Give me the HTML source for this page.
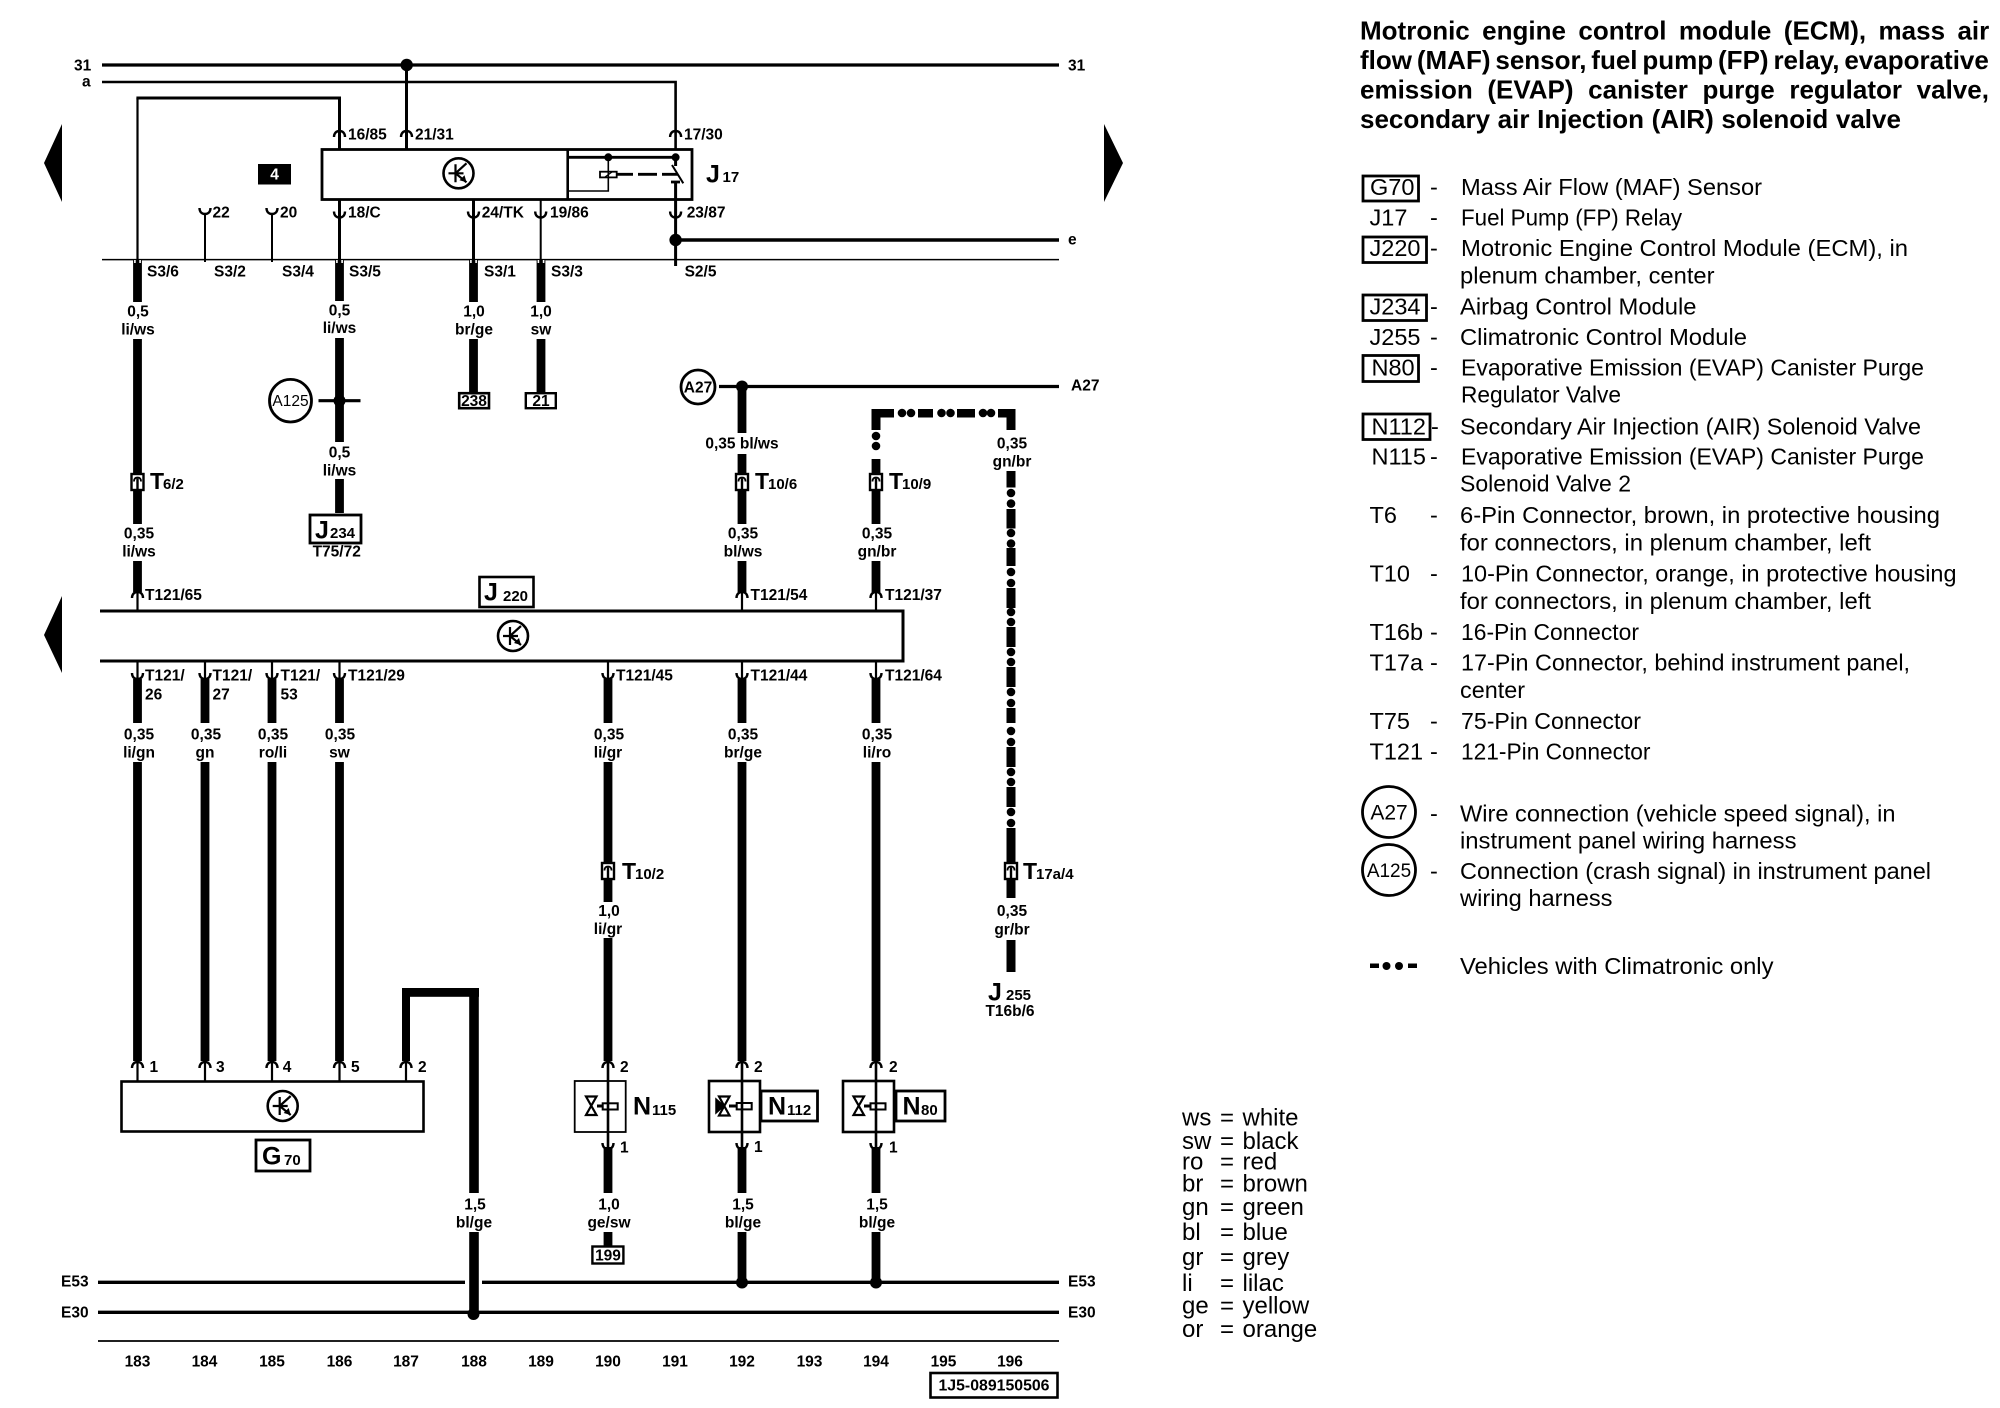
<!DOCTYPE html>
<html lang="en"><head><meta charset="utf-8"><title>Wiring diagram</title>
<style>
html,body{margin:0;padding:0;background:#fff}
svg{display:block}
text{font-family:"Liberation Sans",sans-serif;fill:#000}
.b{font-size:15.5px;font-weight:bold}
.m{text-anchor:middle}
.big{font-size:23px;font-weight:bold}
.jj{font-size:25px;font-weight:bold}
.sub{font-size:15px;font-weight:bold}
.h{font-size:26px;font-weight:bold}
.r{font-size:23.5px}
.c{font-size:24px}
.t{stroke:#000;fill:none}
</style></head><body>
<svg width="2000" height="1408" viewBox="0 0 2000 1408" xmlns="http://www.w3.org/2000/svg">
<defs>
<path id="up" d="M-5.5,6 C-5.5,2 -3,0 0,0 C3,0 5.5,2 5.5,6" fill="none" stroke="#000" stroke-width="2.4"/>
<path id="dn" d="M-5.5,0 C-5.5,4 -3,6 0,6 C3,6 5.5,4 5.5,0" fill="none" stroke="#000" stroke-width="2.4"/>
<g id="logo" fill="none" stroke="#000"><circle r="15" stroke-width="2.6"/><path d="M-3,-9 V9 M-10,0 H5 M-3,0 L8,-10 M-3,0 L8,9" stroke-width="2.2"/><path d="M8,9 L1,7 L6,2 Z" fill="#000" stroke="none"/></g>
<g id="tc"><rect x="-6" y="-7.5" width="12" height="16" fill="#fff" stroke="#000" stroke-width="2.4"/><path d="M0,-3 V8" stroke="#000" stroke-width="2.4"/><path d="M-3.5,0 C-3.5,-3 -2,-4 0,-4 C2,-4 3.5,-3 3.5,0" fill="none" stroke="#000" stroke-width="1.8"/></g>
<g id="notch"><path d="M-2.6,0 V3 M2.6,0 V3" stroke="#fff" stroke-width="1.6"/></g>
</defs>
<rect width="2000" height="1408" fill="#fff"/>

<!-- page arrows -->
<polygon points="44,163 62,124 62,202" fill="#000"/>
<polygon points="44,635 62,596 62,673" fill="#000"/>
<polygon points="1123,163 1104,124 1104,202" fill="#000"/>

<!-- top rails -->
<g class="t">
<path d="M102,65 H1059" stroke-width="3.2"/>
<path d="M102,82 H675.6 V149" stroke-width="2.6"/>
<path d="M406.5,65 V149" stroke-width="3"/>
<path d="M137.5,260 V98" stroke-width="2.2"/>
<path d="M136.4,98 H339.5 V149" stroke-width="3"/>
<path d="M339.5,199 V260 M473.5,199 V260 M675.6,182 V266" stroke-width="3"/>
<path d="M540.7,199 V260" stroke-width="2"/>
<path d="M205,213 V262 M272,213 V262" stroke-width="2"/>
<path d="M102,259.6 H1059" stroke-width="1.5"/>
<path d="M676,240 H1059" stroke-width="3.4"/>
</g>
<circle cx="406.7" cy="65" r="6.2"/><circle cx="675.6" cy="240" r="6.2"/>
<use href="#up" x="339.5" y="131"/><use href="#up" x="406.5" y="131"/><use href="#up" x="675.6" y="131"/>
<use href="#dn" x="339.5" y="211.5"/><use href="#dn" x="473.5" y="211.5"/><use href="#dn" x="540.7" y="211.5"/><use href="#dn" x="675.6" y="211.5"/>
<use href="#dn" x="205" y="208"/><use href="#dn" x="272" y="208"/>

<!-- J17 -->
<rect x="322" y="149.5" width="370" height="50" fill="none" stroke="#000" stroke-width="2.8"/>
<path d="M567.7,149.5 V199.5" stroke="#000" stroke-width="2.6"/>
<use href="#logo" x="458.5" y="173.3"/>
<g class="t">
<path d="M568,157.3 H675.6" stroke-width="2.8"/>
<path d="M608.3,157 V191 H568" stroke-width="1.6"/>
<path d="M616,174.3 H633 M638,174.3 H657 M662,174.3 H678" stroke-width="2.8"/>
<path d="M672,165 L683.3,183.3" stroke-width="2"/>
<path d="M675.6,157 V166" stroke-width="3"/>
<path d="M671,182 H680" stroke-width="2.8"/>
</g>
<rect x="600" y="171.7" width="16.7" height="5.7" fill="#fff" stroke="#000" stroke-width="1.8"/>
<path d="M605,177 L612,172" stroke="#000" stroke-width="1.2"/><path d="M608.3,172 V177" stroke="#000" stroke-width="1.6"/>
<circle cx="608.3" cy="157.3" r="4"/><circle cx="675.6" cy="157.3" r="4"/>
<text x="706" y="182.5" class="jj">J</text><text x="722.5" y="182" class="sub">17</text>
<rect x="258" y="164" width="33" height="20.5" fill="#000"/>
<text x="274.5" y="179.5" class="b m" style="fill:#fff">4</text>

<g class="b">
<text x="74" y="70.5">31</text><text x="1068" y="70.5">31</text><text x="82" y="86.5">a</text><text x="1068" y="244.5">e</text>
<text x="348" y="139.5">16/85</text><text x="415" y="139.5">21/31</text><text x="684" y="139.5">17/30</text>
<text x="348" y="217.5">18/C</text><text x="481.7" y="217.5">24/TK</text><text x="550" y="217.5">19/86</text><text x="686.7" y="217.5">23/87</text>
<text x="212.5" y="217.5">22</text><text x="280" y="217.5">20</text>
<text x="147" y="276.5">S3/6</text><text x="214" y="276.5">S3/2</text><text x="282" y="276.5">S3/4</text><text x="349" y="276.5">S3/5</text><text x="484" y="276.5">S3/1</text><text x="551" y="276.5">S3/3</text><text x="684.6" y="276.5">S2/5</text>
</g>

<!-- thick wires upper -->
<g class="t" stroke-width="8.8">
<path d="M137.5,260 V302 M137.5,339 V524 M137.5,561 V592"/>
<path d="M339.5,260 V301 M339.5,338 V442 M339.5,479 V513"/>
<path d="M473.5,260 V302 M473.5,339 V392"/>
<path d="M541,260 V302 M541,339 V392"/>
<path d="M742,386 V433 M742,454 V524 M742,561 V592"/>
<path d="M876,459 V524 M876,561 V592"/>
</g>
<use href="#notch" x="137.5" y="260"/><use href="#notch" x="339.5" y="260"/><use href="#notch" x="473.5" y="260"/><use href="#notch" x="541" y="260"/>
<g class="t" stroke-width="3.2">
<path d="M719,386.5 H1059"/>
<path d="M318.5,400.7 H360.5"/>
</g>
<circle cx="742" cy="386.5" r="6"/><circle cx="339.5" cy="400.7" r="6"/>
<ellipse cx="290.5" cy="400.7" rx="21" ry="21.3" fill="#fff" stroke="#000" stroke-width="2.8"/>
<text x="290.5" y="406" class="m" style="font-size:15.5px">A125</text>
<ellipse cx="698" cy="387" rx="17" ry="17" fill="#fff" stroke="#000" stroke-width="2.8"/>
<text x="698" y="392.5" class="b m">A27</text>
<text x="1071" y="390.5" class="b">A27</text>

<rect x="459.2" y="393.2" width="29.8" height="15" fill="#fff" stroke="#000" stroke-width="2.6"/>
<text x="474" y="406.2" class="b m">238</text>
<rect x="525.8" y="393.2" width="30" height="15" fill="#fff" stroke="#000" stroke-width="2.4"/>
<text x="541" y="406.2" class="b m">21</text>
<rect x="310" y="515" width="51" height="28" fill="#fff" stroke="#000" stroke-width="2.8"/>
<text x="315" y="538.5" class="jj">J</text><text x="330" y="538" class="sub">234</text>
<text x="336.7" y="556.5" class="b m">T75/72</text>

<!-- dashed harness -->
<g fill="#000">
<rect x="871.5" y="409" width="22.5" height="8.5"/><circle cx="902" cy="413" r="4.3"/><circle cx="911" cy="413" r="4.3"/>
<rect x="918" y="409" width="15" height="8.5"/><circle cx="941.5" cy="413" r="4.3"/><circle cx="950.5" cy="413" r="4.3"/>
<rect x="957" y="409" width="18" height="8.5"/><circle cx="983" cy="413" r="4.3"/><circle cx="991" cy="413" r="4.3"/>
<rect x="998" y="409" width="17.5" height="8.5"/>
<rect x="871.5" y="409" width="9" height="21"/><circle cx="876" cy="436" r="4.3"/><circle cx="876" cy="446" r="4.3"/>
<rect x="1006.5" y="409" width="9" height="21"/>
<rect x="1006.5" y="471" width="9" height="16.5"/><circle cx="1011" cy="493" r="4.3"/><circle cx="1011" cy="503.6" r="4.3"/>
<rect x="1006.5" y="509" width="9" height="19.5"/><circle cx="1011" cy="533" r="4.3"/><circle cx="1011" cy="543.6" r="4.3"/>
<rect x="1006.5" y="548" width="9" height="18"/><circle cx="1011" cy="572" r="4.3"/><circle cx="1011" cy="583" r="4.3"/>
<rect x="1006.5" y="588" width="9" height="20"/><circle cx="1011" cy="612" r="4.3"/><circle cx="1011" cy="622" r="4.3"/>
<rect x="1006.5" y="627" width="9" height="20"/><circle cx="1011" cy="652" r="4.3"/><circle cx="1011" cy="662" r="4.3"/>
<rect x="1006.5" y="667" width="9" height="20"/><circle cx="1011" cy="692" r="4.3"/><circle cx="1011" cy="703" r="4.3"/>
<rect x="1006.5" y="708" width="9" height="15"/><circle cx="1011" cy="731" r="4.3"/><circle cx="1011" cy="742" r="4.3"/>
<rect x="1006.5" y="747" width="9" height="20"/><circle cx="1011" cy="772" r="4.3"/><circle cx="1011" cy="782" r="4.3"/>
<rect x="1006.5" y="787" width="9" height="20"/><circle cx="1011" cy="812" r="4.3"/><circle cx="1011" cy="823" r="4.3"/>
<rect x="1006.5" y="828" width="9" height="70"/>
<rect x="1006.5" y="940" width="9" height="32"/>
</g>

<!-- wire labels upper -->
<g class="b m">
<text x="138" y="316.5">0,5</text><text x="138" y="334.5">li/ws</text>
<text x="339.5" y="315.5">0,5</text><text x="339.5" y="333">li/ws</text>
<text x="339.5" y="457.5">0,5</text><text x="339.5" y="475.5">li/ws</text>
<text x="474" y="316.5">1,0</text><text x="474" y="334.5">br/ge</text>
<text x="541" y="316.5">1,0</text><text x="541" y="334.5">sw</text>
<text x="742" y="448.5">0,35 bl/ws</text>
<text x="1012" y="448.5">0,35</text><text x="1012" y="466.5">gn/br</text>
<text x="139" y="538.5">0,35</text><text x="139" y="556.5">li/ws</text>
<text x="743" y="538.5">0,35</text><text x="743" y="556.5">bl/ws</text>
<text x="877" y="538.5">0,35</text><text x="877" y="556.5">gn/br</text>
</g>

<!-- J220 / ECM -->
<rect x="479.5" y="577" width="54" height="30" fill="#fff" stroke="#000" stroke-width="2.6"/>
<text x="484" y="600.5" class="jj">J</text><text x="503" y="601" class="sub">220</text>
<path d="M100,611 H903 V661 H100" fill="none" stroke="#000" stroke-width="3"/>
<use href="#logo" x="513" y="636"/>
<g class="t" stroke-width="2.2">
<path d="M137.5,590 V611 M742,590 V611 M876,590 V611"/>
<path d="M137.5,661 V680 M205,661 V680 M272,661 V680 M339.5,661 V680 M608,661 V680 M742,661 V680 M876,661 V680"/>
</g>
<use href="#up" x="137.5" y="592"/><use href="#up" x="742" y="592"/><use href="#up" x="876" y="592"/>
<use href="#dn" x="137.5" y="673"/><use href="#dn" x="205" y="673"/><use href="#dn" x="272" y="673"/><use href="#dn" x="339.5" y="673"/><use href="#dn" x="608" y="673"/><use href="#dn" x="742" y="673"/><use href="#dn" x="876" y="673"/>
<g class="b">
<text x="145" y="600">T121/65</text><text x="750.5" y="600">T121/54</text><text x="885" y="600">T121/37</text>
<text x="145" y="680.5">T121/</text><text x="145" y="699.5">26</text>
<text x="212.5" y="680.5">T121/</text><text x="212.5" y="699.5">27</text>
<text x="280.5" y="680.5">T121/</text><text x="280.5" y="699.5">53</text>
<text x="348" y="680.5">T121/29</text><text x="616" y="680.5">T121/45</text><text x="750.5" y="680.5">T121/44</text><text x="885" y="680.5">T121/64</text>
</g>

<!-- lower wires -->
<g class="t" stroke-width="8.8">
<path d="M137.5,679 V723 M137.5,762 V1061"/>
<path d="M205,679 V723 M205,762 V1061"/>
<path d="M272,679 V723 M272,762 V1061"/>
<path d="M339.5,679 V723 M339.5,762 V1061"/>
<path d="M608,679 V723 M608,762 V902 M608,938 V1061"/>
<path d="M742,679 V723 M742,762 V1061"/>
<path d="M876,679 V723 M876,762 V1061"/>
<path d="M608,1147 V1193 M608,1232 V1246"/>
<path d="M742,1147 V1193 M742,1232 V1282"/>
<path d="M876,1147 V1193 M876,1232 V1282"/>
<path d="M474,992 V1193 M474,1232 V1315" stroke-width="9.6"/>
<path d="M406,988 V1061" stroke-width="8"/>
</g>
<rect x="402" y="988" width="77" height="8.8"/>

<!-- connectors -->
<use href="#tc" x="137.5" y="481.5"/><use href="#tc" x="742" y="481.5"/><use href="#tc" x="876" y="481.5"/>
<use href="#tc" x="608" y="870.5"/><use href="#tc" x="1011" y="870.5"/>
<text x="150" y="489" class="big">T</text><text x="163" y="489" class="sub">6/2</text>
<text x="755" y="489" class="big">T</text><text x="768" y="489" class="sub">10/6</text>
<text x="889" y="489" class="big">T</text><text x="902" y="489" class="sub">10/9</text>
<text x="622" y="879" class="big">T</text><text x="635" y="879" class="sub">10/2</text>
<text x="1023" y="879" class="big">T</text><text x="1036" y="879" style="font-size:15px;font-weight:bold">17a/4</text>

<g class="b m">
<text x="139" y="739.5">0,35</text><text x="139" y="757.5">li/gn</text>
<text x="206" y="739.5">0,35</text><text x="205" y="757.5">gn</text>
<text x="273" y="739.5">0,35</text><text x="273" y="757.5">ro/li</text>
<text x="340" y="739.5">0,35</text><text x="339.5" y="757.5">sw</text>
<text x="609" y="739.5">0,35</text><text x="608" y="757.5">li/gr</text>
<text x="743" y="739.5">0,35</text><text x="743" y="757.5">br/ge</text>
<text x="877" y="739.5">0,35</text><text x="877" y="757.5">li/ro</text>
<text x="609" y="916">1,0</text><text x="608" y="934">li/gr</text>
<text x="1012" y="916">0,35</text><text x="1012" y="934.5">gr/br</text>
<text x="475" y="1209.5">1,5</text><text x="474" y="1227.5">bl/ge</text>
<text x="609" y="1209.5">1,0</text><text x="609" y="1227.5">ge/sw</text>
<text x="743" y="1209.5">1,5</text><text x="743" y="1227.5">bl/ge</text>
<text x="877" y="1209.5">1,5</text><text x="877" y="1227.5">bl/ge</text>
</g>
<text x="988" y="1000.5" class="jj">J</text><text x="1006" y="1000" class="sub">255</text>
<text x="1010" y="1016" class="b m">T16b/6</text>

<!-- G70 -->
<rect x="121.5" y="1081.5" width="302" height="50" fill="#fff" stroke="#000" stroke-width="2.6"/>
<use href="#logo" x="282.7" y="1106"/>
<rect x="256" y="1140" width="54" height="31" fill="#fff" stroke="#000" stroke-width="2.8"/>
<text x="262" y="1164.5" class="jj">G</text><text x="284" y="1165" class="sub">70</text>
<g class="t" stroke-width="2.2">
<path d="M137.5,1060 V1081 M205,1060 V1081 M272,1060 V1081 M339.5,1060 V1081 M406,1060 V1081"/>
</g>
<use href="#up" x="137.5" y="1062"/><use href="#up" x="205" y="1062"/><use href="#up" x="272" y="1062"/><use href="#up" x="339.5" y="1062"/><use href="#up" x="406" y="1062"/>
<use href="#up" x="608" y="1062"/><use href="#up" x="742" y="1062"/><use href="#up" x="876" y="1062"/>
<g class="b">
<text x="149.5" y="1072">1</text><text x="216" y="1072">3</text><text x="282.7" y="1072">4</text><text x="351" y="1072">5</text><text x="418" y="1072">2</text>
<text x="620" y="1072">2</text><text x="754" y="1072">2</text><text x="889" y="1072">2</text>
<text x="620" y="1152.5">1</text><text x="754" y="1152">1</text><text x="889" y="1152.5">1</text>
</g>

<!-- Valves -->
<rect x="574.7" y="1081" width="51" height="51" fill="#fff" stroke="#000" stroke-width="1.8"/>
<rect x="709" y="1081" width="51" height="51" fill="#fff" stroke="#000" stroke-width="2.6"/>
<rect x="843" y="1081" width="51" height="51" fill="#fff" stroke="#000" stroke-width="2.6"/>
<g stroke="#000" fill="#fff">
<path d="M586,1096.5 H596.5 L586,1115 H596.5 Z" stroke-width="2.2"/>
<path d="M597,1106 H603" stroke-width="3"/>
<rect x="602.7" y="1103.3" width="15" height="6.2" stroke-width="2"/>
<path d="M719,1096.5 H729.5 L719,1115.5 H729.5 Z" stroke-width="2.2"/>
<path d="M724,1106 L716,1099 V1113 Z" stroke-width="1.5" fill="#000"/>
<path d="M729,1106 H737" stroke-width="3"/>
<rect x="736.7" y="1103" width="15" height="6.4" stroke-width="2"/>
<path d="M853.5,1096.5 H864 L853.5,1115 H864 Z" stroke-width="2.2"/>
<path d="M864,1106 H871" stroke-width="3"/>
<rect x="870.5" y="1103.3" width="15" height="6.2" stroke-width="2"/>
</g>
<g class="t" stroke-width="2.6">
<path d="M608,1061 V1147 M742,1061 V1147 M876,1061 V1147"/>
</g>
<use href="#dn" x="608" y="1143"/><use href="#dn" x="742" y="1143"/><use href="#dn" x="876" y="1143"/>
<text x="633" y="1114.5" style="font-size:25px;font-weight:bold">N</text><text x="652" y="1115" class="sub">115</text>
<rect x="761" y="1091" width="56.5" height="30" fill="#fff" stroke="#000" stroke-width="2.8"/>
<text x="768" y="1114.5" style="font-size:25px;font-weight:bold">N</text><text x="787" y="1115" class="sub">112</text>
<rect x="896" y="1091" width="49" height="30" fill="#fff" stroke="#000" stroke-width="2.8"/>
<text x="902.5" y="1114.5" style="font-size:25px;font-weight:bold">N</text><text x="921" y="1115" class="sub">80</text>
<rect x="592.4" y="1246.5" width="31" height="17" fill="#fff" stroke="#000" stroke-width="2.4"/>
<text x="608" y="1260.5" class="b m">199</text>

<!-- bottom rails -->
<g class="t">
<path d="M98,1282.3 H465 M482,1282.3 H1059" stroke-width="3.4"/>
<path d="M98,1312.3 H1059" stroke-width="3.4"/>
<path d="M98,1341 H1059" stroke-width="1.8"/>
</g>
<circle cx="742" cy="1282.5" r="6"/><circle cx="876" cy="1282.5" r="6"/><circle cx="473.5" cy="1314" r="6"/>
<g class="b">
<text x="61" y="1286.5">E53</text><text x="61" y="1317.5">E30</text><text x="1068" y="1286.5">E53</text><text x="1068" y="1317.5">E30</text>
</g>
<g class="b m">
<text x="137.5" y="1366.5">183</text><text x="204.5" y="1366.5">184</text><text x="272" y="1366.5">185</text><text x="339.5" y="1366.5">186</text><text x="406" y="1366.5">187</text><text x="474" y="1366.5">188</text><text x="541" y="1366.5">189</text><text x="608" y="1366.5">190</text><text x="675" y="1366.5">191</text><text x="742" y="1366.5">192</text><text x="809.5" y="1366.5">193</text><text x="876" y="1366.5">194</text><text x="943.5" y="1366.5">195</text><text x="1010" y="1366.5">196</text>
</g>
<rect x="930.5" y="1373" width="127" height="24.5" fill="#fff" stroke="#000" stroke-width="2.6"/>
<text x="994" y="1390.5" class="b m" textLength="111" lengthAdjust="spacingAndGlyphs">1J5-089150506</text>

<!-- Title -->
<g class="h">
<text x="1360" y="39.5" style="word-spacing:5.2px">Motronic engine control module (ECM), mass air</text>
<text x="1360" y="69" style="word-spacing:-2.35px">flow (MAF) sensor, fuel pump (FP) relay, evaporative</text>
<text x="1360" y="98.5" style="word-spacing:7.4px">emission (EVAP) canister purge regulator valve,</text>
<text x="1360" y="128" style="word-spacing:.4px">secondary air Injection (AIR) solenoid valve</text>
</g>

<!-- Legend -->
<g fill="none" stroke="#000" stroke-width="2.8">
<rect x="1363" y="176" width="55.5" height="25"/>
<rect x="1363" y="237" width="63.5" height="25.5"/>
<rect x="1363" y="295" width="63.5" height="25.5"/>
<rect x="1363" y="355.5" width="55.5" height="26"/>
<rect x="1363" y="414" width="67" height="25.5"/>
<ellipse cx="1389" cy="812" rx="26.5" ry="25.5"/>
<ellipse cx="1389" cy="870" rx="26.5" ry="25.5"/>
</g>
<g class="r">
<text x="1370" y="195">G70</text><text x="1430" y="195">-</text>
<text x="1461" y="195" textLength="301" lengthAdjust="spacingAndGlyphs">Mass Air Flow (MAF) Sensor</text>
<text x="1369.5" y="225.5">J17</text><text x="1430" y="225.5">-</text>
<text x="1461" y="225.5" textLength="221" lengthAdjust="spacingAndGlyphs">Fuel Pump (FP) Relay</text>
<text x="1369.5" y="256">J220</text><text x="1430" y="256">-</text>
<text x="1461" y="256" textLength="447" lengthAdjust="spacingAndGlyphs">Motronic Engine Control Module (ECM), in</text>
<text x="1460" y="283.5" textLength="254.5" lengthAdjust="spacingAndGlyphs">plenum chamber, center</text>
<text x="1369.5" y="314.5">J234</text><text x="1430" y="314.5">-</text>
<text x="1460" y="314.5" textLength="236.5" lengthAdjust="spacingAndGlyphs">Airbag Control Module</text>
<text x="1369.5" y="345">J255</text><text x="1430" y="345">-</text>
<text x="1460" y="345" textLength="287" lengthAdjust="spacingAndGlyphs">Climatronic Control Module</text>
<text x="1371.5" y="375.5">N80</text><text x="1430" y="375.5">-</text>
<text x="1461" y="375.5" textLength="463" lengthAdjust="spacingAndGlyphs">Evaporative Emission (EVAP) Canister Purge</text>
<text x="1461" y="402.5" textLength="160" lengthAdjust="spacingAndGlyphs">Regulator Valve</text>
<text x="1371.5" y="434.5">N112</text><text x="1431" y="434.5">-</text>
<text x="1460" y="434.5" textLength="461" lengthAdjust="spacingAndGlyphs">Secondary Air Injection (AIR) Solenoid Valve</text>
<text x="1371.5" y="464.5">N115</text><text x="1430" y="464.5">-</text>
<text x="1461" y="464.5" textLength="463" lengthAdjust="spacingAndGlyphs">Evaporative Emission (EVAP) Canister Purge</text>
<text x="1460" y="491.5" textLength="171" lengthAdjust="spacingAndGlyphs">Solenoid Valve 2</text>
<text x="1369.5" y="523">T6</text><text x="1430" y="523">-</text>
<text x="1460" y="523" textLength="480" lengthAdjust="spacingAndGlyphs">6-Pin Connector, brown, in protective housing</text>
<text x="1460" y="550.5" textLength="411" lengthAdjust="spacingAndGlyphs">for connectors, in plenum chamber, left</text>
<text x="1369.5" y="581.5">T10</text><text x="1430" y="581.5">-</text>
<text x="1461" y="581.5" textLength="495.5" lengthAdjust="spacingAndGlyphs">10-Pin Connector, orange, in protective housing</text>
<text x="1460" y="609" textLength="411" lengthAdjust="spacingAndGlyphs">for connectors, in plenum chamber, left</text>
<text x="1369.5" y="640">T16b</text><text x="1430" y="640">-</text>
<text x="1461" y="640" textLength="178" lengthAdjust="spacingAndGlyphs">16-Pin Connector</text>
<text x="1369.5" y="670.5">T17a</text><text x="1430" y="670.5">-</text>
<text x="1461" y="670.5" textLength="449" lengthAdjust="spacingAndGlyphs">17-Pin Connector, behind instrument panel,</text>
<text x="1460" y="698" textLength="65" lengthAdjust="spacingAndGlyphs">center</text>
<text x="1369.5" y="729">T75</text><text x="1430" y="729">-</text>
<text x="1461" y="729" textLength="180" lengthAdjust="spacingAndGlyphs">75-Pin Connector</text>
<text x="1369.5" y="759.5">T121</text><text x="1430" y="759.5">-</text>
<text x="1461" y="759.5" textLength="189.5" lengthAdjust="spacingAndGlyphs">121-Pin Connector</text>
<text x="1430" y="821.5">-</text>
<text x="1460" y="821.5" textLength="435.5" lengthAdjust="spacingAndGlyphs">Wire connection (vehicle speed signal), in</text>
<text x="1460" y="848.5" textLength="336.5" lengthAdjust="spacingAndGlyphs">instrument panel wiring harness</text>
<text x="1430" y="879">-</text>
<text x="1460" y="879" textLength="471" lengthAdjust="spacingAndGlyphs">Connection (crash signal) in instrument panel</text>
<text x="1460" y="906" textLength="152.5" lengthAdjust="spacingAndGlyphs">wiring harness</text>
<text x="1460" y="974" textLength="313.5" lengthAdjust="spacingAndGlyphs">Vehicles with Climatronic only</text>
</g>
<text x="1389" y="819.5" class="m" style="font-size:21px">A27</text>
<text x="1389" y="877" class="m" style="font-size:19px">A125</text>
<rect x="1370" y="963.5" width="9" height="4.5"/><circle cx="1386.5" cy="966" r="4"/><circle cx="1399" cy="966" r="4"/><rect x="1408" y="963.5" width="9" height="4.5"/>

<!-- colour key -->
<g class="c">
<text x="1182" y="1125.5">ws</text><text x="1220" y="1125.5">=</text><text x="1242.5" y="1125.5">white</text>
<text x="1182" y="1149">sw</text><text x="1220" y="1149">=</text><text x="1242.5" y="1149">black</text>
<text x="1182" y="1169.5">ro</text><text x="1220" y="1169.5">=</text><text x="1242.5" y="1169.5">red</text>
<text x="1182" y="1191.5">br</text><text x="1220" y="1191.5">=</text><text x="1242.5" y="1191.5">brown</text>
<text x="1182" y="1215">gn</text><text x="1220" y="1215">=</text><text x="1242.5" y="1215">green</text>
<text x="1182" y="1240">bl</text><text x="1220" y="1240">=</text><text x="1242.5" y="1240">blue</text>
<text x="1182" y="1265">gr</text><text x="1220" y="1265">=</text><text x="1242.5" y="1265">grey</text>
<text x="1182" y="1291">li</text><text x="1220" y="1291">=</text><text x="1242.5" y="1291">lilac</text>
<text x="1182" y="1313.5">ge</text><text x="1220" y="1313.5">=</text><text x="1242.5" y="1313.5">yellow</text>
<text x="1182" y="1337">or</text><text x="1220" y="1337">=</text><text x="1242.5" y="1337">orange</text>
</g>
</svg>
</body></html>
